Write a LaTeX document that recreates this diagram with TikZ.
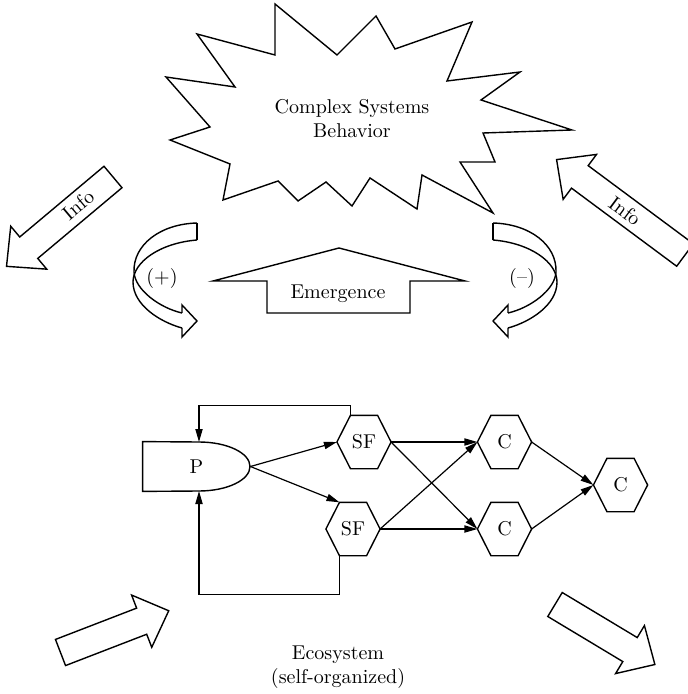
\documentclass[tikz,border=0pt]{standalone}
\usepackage{tikz}
\usetikzlibrary{arrows.meta,calc}

% fat outlined arrow: tail centre, angle, shaft length
\newcommand{\fatarrow}[3]{%
  \draw[outline, shift={(#1)}, rotate=#2] (0,-14) -- (#3,-14) -- (#3,-28) -- ({#3+29},0) -- (#3,28) -- (#3,14) -- (0,14) -- cycle;}

\begin{document}
\begin{tikzpicture}[x=0.5pt, y=-0.5pt,
    outline/.style={line width=0.7pt, line join=miter},
    hexa/.style={minimum width=26.7pt, minimum height=26.3pt, inner sep=0pt},
    link/.style={-{Triangle[length=6.5pt,width=3.6pt]}, line width=0.6pt}]
    \fill[white] (0,0) rectangle (688,694);
    \clip (0,0) rectangle (688,694);

    % complex systems burst
    \draw[outline] (275,4) -- (337,55) -- (376,16) -- (395,49) -- (472,22) -- (447,81) -- (520,72) -- (481,100) -- (572,130) -- (483,133) -- (495,162) -- (460,162) -- (493,213) -- (422,175) -- (417,209) -- (370,178) -- (352,206) -- (326,182) -- (298,201) -- (278,181) -- (223,200) -- (230,164) -- (170,140) -- (210,127) -- (166,77) -- (235,87) -- (197,34) -- (275,55) -- cycle;
    \node[align=center] (burst) at (352,119) {Complex Systems\\Behavior};

    % info arrows
    \fatarrow{113,177}{220}{110}
    \node[rotate=40, inner sep=0pt] (infoL) at (78,205) {Info};
    \fatarrow{685,255}{143.4}{131}
    \node[rotate=-36.6, inner sep=0pt] (infoR) at (625,211) {Info};

    % feedback loops
    \draw[outline] (197,223) -- (197,240);
    \draw[outline] (197,223) .. controls (160,224) and (133,245) .. (134,272) .. controls (135,290) and (160,308) .. (182,313);
    \draw[outline] (197,240) .. controls (160,243) and (133,262) .. (133,282) .. controls (133,305) and (160,322) .. (182,328);
    \draw[outline] (182,313) -- (182,305) -- (197,321) -- (182,337) -- (182,328);
    \node (plus) at (162,279) {(+)};

    \draw[outline] (493,223) -- (493,240);
    \draw[outline] (493,223) .. controls (530,224) and (557,245) .. (556,272) .. controls (555,290) and (530,308) .. (508,313);
    \draw[outline] (493,240) .. controls (530,243) and (557,262) .. (557,282) .. controls (557,305) and (530,322) .. (508,328);
    \draw[outline] (508,313) -- (508,305) -- (493,321) -- (508,337) -- (508,328);
    \node (minus) at (522,279) {(–)};

    % emergence
    \draw[outline] (339,248) -- (465,281) -- (410,281) -- (410,313) -- (267,313) -- (267,281) -- (213,281) -- cycle;
    \node (emerg) at (338,294) {Emergence};

    % ecosystem network
    \node[minimum width=53.5pt, minimum height=24.5pt, inner sep=0pt] (P) at (196.5,466.5) {P};
    \coordinate (Ptop) at (199,442);
    \coordinate (Pbot) at (199,491);
    \draw[outline] (P.north west) -- (Ptop) arc[start angle=-90, end angle=90, x radius=51, y radius=24.5] -- (P.south west) -- cycle;

    \node[hexa] (SF1) at (364,442) {SF};
    \node[hexa] (SF2) at (353,529) {SF};
    \node[hexa] (C1) at (504.5,442) {C};
    \node[hexa] (C2) at (504.5,529) {C};
    \node[hexa] (C3) at (620.5,485) {C};
    \foreach \n in {SF1,SF2,C1,C2,C3} {
        \coordinate (\n-tl) at ($(\n.north west)!0.25!(\n.north east)$);
        \coordinate (\n-tr) at ($(\n.north west)!0.75!(\n.north east)$);
        \coordinate (\n-bl) at ($(\n.south west)!0.25!(\n.south east)$);
        \coordinate (\n-br) at ($(\n.south west)!0.75!(\n.south east)$);
        \draw[outline] (\n.west) -- (\n-tl) -- (\n-tr) -- (\n.east) -- (\n-br) -- (\n-bl) -- cycle;
    }

    \draw[link] (P.east) -- (SF1.west);
    \draw[link] (P.east) -- (SF2-tl);
    \draw[link] (SF1-tl) -- ++(0,-9.5) -| (Ptop);
    \draw[link] (SF2-bl) -- ++(0,39) -| (Pbot);

    \draw[link] (SF1.east) -- (C1.west);
    \draw[link] (SF1.east) -- (C2.west);
    \draw[link] (SF2.east) -- (C1.west);
    \draw[link] (SF2.east) -- (C2.west);
    \draw[link] (C1.east) -- (C3.west);
    \draw[link] (C2.east) -- (C3.west);

    % outer arrows
    \fatarrow{60.5,652.5}{21.1}{87}
    \fatarrow{555,604.5}{-31}{87.5}
    \node[align=center] (eco) at (338,667) {Ecosystem\\(self-organized)};
\end{tikzpicture}
\end{document}
